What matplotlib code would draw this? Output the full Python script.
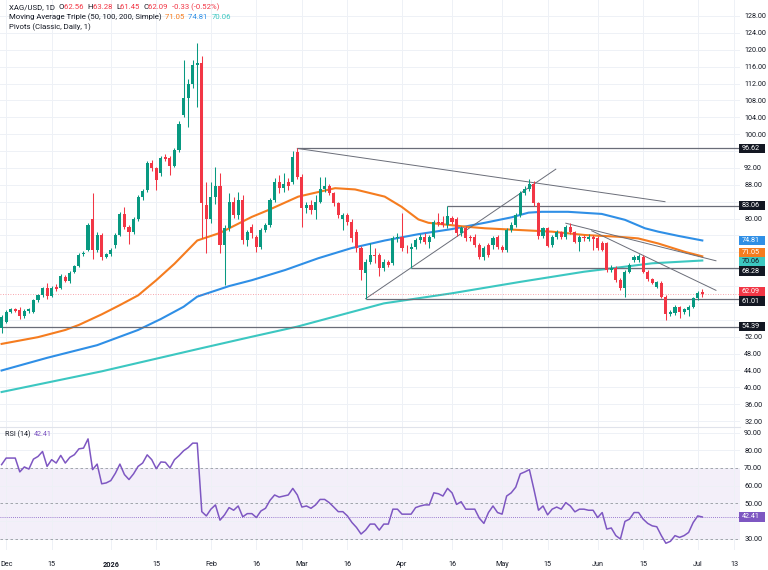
import numpy as np
import pandas as pd
import matplotlib
matplotlib.use("Agg")
import matplotlib.pyplot as plt
from matplotlib.patches import Rectangle

plt.rcParams['font.family'] = ['Roboto', 'DejaVu Sans']

# ---------------- data ----------------
start_date = '2025-11-28'

opens = [54.0, 55.6, 57.9, 58.5, 58.4, 56.9, 58.0, 57.9, 60.7, 61.8,
         63.6, 61.6, 63.9, 63.6, 66.2, 65.1, 67.3, 68.8, 71.5, 72.5,
         80.0, 72.5, 76.1, 71.0, 71.5, 73.7, 76.1, 81.2, 78.1, 76.9,
         79.8, 85.2, 86.8, 93.2, 91.9, 90.7, 94.5, 94.3, 92.5, 96.2,
         104.5, 108.5, 112.0, 116.4, 116.9, 83.2, 80.0, 85.2, 87.6, 73.7,
         77.7, 84.0, 80.8, 84.4, 74.9, 78.1, 75.7, 73.3, 77.3, 78.5,
         84.4, 88.7, 87.2, 88.7, 88.7, 95.8, 89.9, 82.4, 83.2, 82.0,
         84.0, 86.9, 87.6, 86.0, 83.6, 80.0, 80.8, 79.3, 76.9, 72.95,
         67.0, 69.8, 71.4, 71.4, 68.2, 69.8, 69.4, 75.3, 75.7, 72.9,
         72.7, 73.3, 74.9, 75.7, 74.5, 75.7, 79.3, 79.3, 78.5, 80.1,
         79.8, 76.5, 77.7, 75.7, 75.7, 73.7, 71.0, 73.7, 73.7, 75.7,
         73.3, 72.6, 77.3, 78.5, 80.8, 86.0, 87.0, 88.2, 83.6, 75.9,
         77.7, 73.7, 75.7, 76.7, 75.6, 78.1, 76.7, 74.5, 75.7, 75.1,
         75.6, 75.4, 74.2, 74.1, 67.8, 68.4, 65.4, 63.5, 67.4, 70.2,
         70.2, 71.0, 67.4, 65.6, 63.9, 64.8, 61.5, 57.4, 57.6, 59.0,
         57.9, 58.3, 59.1, 61.1, 62.56]
highs = [57.2, 58.3, 58.8, 58.9, 59.0, 58.5, 58.9, 61.0, 62.2, 63.9,
         64.7, 64.0, 64.4, 66.8, 66.6, 67.6, 69.1, 71.8, 72.3, 79.0,
         86.0, 76.8, 76.5, 71.8, 73.0, 76.6, 81.6, 82.8, 78.5, 80.3,
         85.7, 87.0, 93.6, 93.9, 92.3, 94.8, 95.3, 94.8, 96.7, 103.0,
         117.6, 113.0, 117.6, 121.6, 118.6, 88.7, 88.7, 92.3, 90.7, 78.5,
         86.0, 85.0, 86.4, 85.5, 77.3, 78.8, 76.0, 77.7, 79.0, 84.9,
         89.5, 90.3, 90.7, 89.5, 96.0, 96.62, 90.5, 84.0, 84.5, 85.6,
         89.9, 89.9, 88.3, 86.4, 84.0, 81.4, 81.2, 80.0, 77.5, 73.4,
         70.5, 74.1, 73.0, 71.9, 70.5, 70.3, 75.8, 76.5, 81.2, 73.8,
         74.3, 75.5, 76.3, 76.5, 76.2, 79.7, 81.2, 80.5, 83.06, 80.6,
         80.3, 78.3, 78.3, 76.2, 76.3, 74.3, 73.5, 74.1, 75.9, 76.2,
         73.8, 77.7, 79.3, 81.2, 86.5, 87.8, 89.3, 89.0, 84.0, 78.1,
         78.0, 76.1, 77.2, 77.0, 78.5, 78.9, 77.0, 76.0, 76.1, 76.3,
         76.0, 75.8, 74.6, 74.4, 69.0, 68.8, 65.8, 67.8, 69.4, 71.4,
         71.6, 71.4, 67.8, 66.0, 65.3, 65.2, 61.9, 58.3, 59.5, 59.4,
         58.9, 59.6, 61.5, 62.8, 63.28]
lows = [53.0, 55.2, 57.6, 57.8, 56.3, 56.5, 57.7, 57.6, 60.3, 61.5,
        60.9, 61.3, 62.9, 63.3, 64.9, 64.8, 67.0, 68.5, 71.2, 72.2,
        70.5, 72.0, 70.2, 70.7, 71.2, 73.0, 75.8, 77.5, 74.0, 76.4,
        79.4, 84.3, 86.4, 91.3, 86.8, 90.2, 93.6, 90.3, 92.1, 95.8,
        104.1, 101.8, 111.0, 106.5, 75.5, 71.8, 78.9, 83.5, 71.8, 64.3,
        77.0, 80.2, 80.0, 74.0, 73.5, 75.4, 72.1, 72.8, 76.9, 78.1,
        84.0, 86.1, 86.4, 86.7, 88.3, 89.3, 78.1, 81.4, 81.0, 80.0,
        83.6, 86.2, 85.5, 83.0, 80.2, 77.3, 78.5, 74.5, 72.0, 65.5,
        61.01, 69.2, 69.5, 66.5, 67.5, 68.5, 68.9, 74.5, 72.3, 71.9,
        68.28, 72.8, 74.2, 73.9, 73.0, 75.3, 78.3, 77.9, 77.8, 78.6,
        75.8, 75.9, 74.8, 74.7, 73.2, 70.5, 70.2, 70.9, 72.9, 72.8,
        72.0, 72.1, 76.9, 78.1, 80.3, 85.5, 86.5, 83.0, 75.2, 75.3,
        73.2, 73.2, 75.2, 75.1, 75.2, 76.3, 74.1, 72.2, 74.8, 74.6,
        72.6, 72.6, 72.2, 67.3, 67.3, 65.0, 63.1, 61.5, 67.0, 69.6,
        69.8, 67.0, 65.2, 64.4, 63.5, 61.1, 56.0, 56.8, 57.2, 56.4,
        57.4, 56.9, 58.7, 60.8, 61.45]
closes = [56.6, 57.9, 58.5, 58.2, 56.8, 58.1, 58.5, 60.7, 61.8, 63.5,
          61.6, 63.6, 63.2, 66.4, 65.3, 67.2, 68.8, 71.4, 71.9, 78.5,
          72.5, 76.1, 71.0, 71.5, 72.6, 76.1, 81.2, 78.1, 76.7, 79.8,
          85.2, 86.5, 93.2, 91.9, 89.1, 94.3, 94.1, 92.5, 96.2, 102.4,
          108.5, 112.0, 116.4, 116.9, 83.6, 80.0, 85.2, 87.6, 73.7, 77.7,
          84.0, 80.8, 84.4, 74.9, 76.9, 76.5, 73.3, 77.3, 78.5, 84.4,
          88.7, 87.2, 88.3, 87.8, 94.5, 89.9, 82.4, 83.2, 82.0, 84.0,
          86.9, 87.6, 86.0, 83.6, 80.8, 80.8, 79.3, 75.3, 72.95, 67.8,
          69.8, 71.4, 71.2, 68.2, 69.8, 69.0, 75.3, 75.7, 72.95, 72.7,
          73.3, 74.9, 75.7, 74.5, 75.7, 79.3, 78.9, 78.5, 80.6, 79.3,
          76.5, 77.7, 75.3, 75.3, 73.7, 71.0, 72.95, 71.4, 75.3, 73.3,
          72.6, 77.3, 78.5, 80.8, 86.0, 87.0, 88.2, 83.6, 75.9, 77.7,
          73.5, 75.7, 76.7, 75.6, 78.1, 76.7, 74.5, 75.6, 75.3, 75.7,
          75.1, 73.0, 72.6, 67.8, 68.4, 65.4, 63.5, 67.4, 69.0, 71.0,
          71.1, 67.4, 65.6, 64.8, 65.0, 61.5, 57.4, 57.9, 59.1, 57.9,
          58.5, 59.1, 61.1, 62.42, 62.09]

rsi = [71.9, 75.6, 75.6, 75.6, 67.8, 70.6, 69.4, 75.0, 76.5, 79.3,
       70.9, 74.7, 72.8, 77.1, 72.8, 76.0, 77.5, 80.8, 81.2, 86.4,
       69.1, 72.2, 61.1, 61.6, 62.9, 67.0, 72.2, 66.3, 63.5, 66.7,
       70.9, 72.8, 77.4, 74.7, 69.6, 73.4, 73.2, 70.0, 74.7, 77.0,
       79.7, 81.5, 84.0, 84.0, 45.4, 43.0, 46.8, 49.2, 40.6, 43.6,
       47.7, 46.2, 48.6, 42.5, 44.3, 44.3, 42.1, 45.8, 47.3, 51.8,
       54.8, 53.6, 54.2, 54.8, 58.5, 54.8, 48.0, 48.6, 47.3, 49.2,
       52.3, 52.3, 50.5, 48.0, 45.4, 45.4, 43.0, 39.3, 36.5, 32.8,
       35.0, 38.4, 38.4, 35.0, 38.4, 38.4, 46.8, 46.8, 44.0, 44.0,
       44.0, 47.7, 48.6, 49.2, 49.2, 56.0, 55.5, 54.2, 58.5, 56.0,
       49.5, 51.0, 46.8, 46.8, 46.8, 41.7, 38.8, 44.9, 48.6, 44.9,
       44.0, 54.2, 56.0, 59.2, 66.7, 67.8, 69.1, 57.9, 46.2, 48.6,
       43.6, 46.8, 48.0, 46.8, 50.5, 48.6, 45.3, 46.8, 46.8, 46.2,
       46.2, 42.1, 44.9, 35.6, 36.2, 31.9, 30.0, 39.9, 41.2, 44.9,
       44.9, 41.2, 38.8, 37.4, 36.9, 31.9, 27.6, 28.7, 31.9, 30.9,
       31.9, 33.7, 39.3, 43.0, 42.41]

ma50_x = [0, 8, 14, 17, 22, 26, 30, 34, 38, 43, 48, 55, 58.6, 65.2, 73.3, 77.7, 84.2, 87.9,
          91.6, 93.8, 101.8, 106.2, 113.6, 120.9, 128.2, 135.5, 139.9, 144.3, 150.2, 154]
ma50_y = [50.3, 51.9, 53.6, 54.8, 57.3, 59.5, 61.8, 65.4, 69.3, 74.8, 76.6, 80.4, 82.0, 85.2,
          87.2, 86.9, 85.2, 82.8, 79.8, 79.0, 78.1, 77.7, 77.3, 76.9, 76.1, 75.7, 75.3, 74.1,
          72.1, 71.05]
ma100_x = [0, 10, 21, 30, 35, 40, 43, 50, 55, 62.3, 69.6, 76.9, 84.2, 91.6, 98.9, 106.2,
           112.1, 115.8, 118.7, 124.5, 131.9, 137, 141.4, 144.3, 148.7, 154]
ma100_y = [44.0, 47.0, 50.0, 53.6, 56.2, 59.1, 61.5, 64.0, 65.4, 67.8, 70.6, 73.0, 74.8, 76.3,
           77.5, 79.0, 80.3, 81.4, 81.6, 81.6, 81.1, 79.7, 77.7, 76.9, 75.9, 74.81]
ma200_x = [0, 22, 44, 55, 65, 84, 99, 114, 128, 143, 154]
ma200_y = [38.9, 43.8, 49.3, 52.0, 54.4, 59.9, 62.3, 65.0, 67.4, 69.4, 70.06]

pivot_levels = [96.62, 83.06, 68.28, 61.01, 54.39]
pivot_start = [65, 98, 90, 80, 0]

trendlines = [((65, 96.62), (145.8, 84.0)),
              ((80, 61.01), (121.8, 91.7)),
              ((124, 78.9), (157, 70.0)),
              ((129.7, 77.1), (157, 63.0))]

tick_dates = ['2025-12-01', '2025-12-15', '2026-01-01', '2026-01-15', '2026-02-02',
              '2026-02-16', '2026-03-02', '2026-03-16', '2026-04-01', '2026-04-16',
              '2026-05-01', '2026-05-15', '2026-06-01', '2026-06-15', '2026-07-01',
              '2026-07-13']
tick_labels = ['Dec', '15', '2026', '15', 'Feb', '16', 'Mar', '16', 'Apr', '16',
               'May', '15', 'Jun', '15', 'Jul', '13']

price_ticks = np.arange(32, 129, 4)
rsi_ticks = np.arange(30, 91, 10)

title_text = 'XAG/USD, 1D'
ohlc_text = [('O', '62.56'), ('H', '63.28'), ('L', '61.45'), ('C', '62.09')]
change_text = '-0.33 (-0.52%)'
ma_title = 'Moving Average Triple (50, 100, 200, Simple)'
pivot_title = 'Pivots (Classic, Daily, 1)'
rsi_title = 'RSI (14)'

# ---------------- style ----------------
W, H = 768, 570
PANE_R = 740
MAIN_BOT = 427
RSI_BOT = 550
BAR_PX = 4.55
GREEN, RED = '#089981', '#f23645'
C50, C100, C200 = '#f57c1f', '#2f8fe6', '#3cc7c1'
PURPLE = '#7e57c2'
TXT = '#131722'
GRID = '#eef1f6'
FS = 5.2
FS_LEG = 5.6

opens, highs, lows, closes = map(np.array, (opens, highs, lows, closes))
idx = np.arange(len(closes))
dates = pd.bdate_range(start_date, periods=len(closes) + 20)
tick_pos = [dates.get_loc(pd.Timestamp(d)) for d in tick_dates]

fig = plt.figure(figsize=(W / 100, H / 100), dpi=100)
ax = fig.add_axes([0, 1 - MAIN_BOT / H, PANE_R / W, MAIN_BOT / H])
rax = fig.add_axes([0, 1 - RSI_BOT / H, PANE_R / W, (RSI_BOT - MAIN_BOT) / H])

x0 = -0.35
for a in (ax, rax):
    a.set_xlim(x0, x0 + PANE_R / BAR_PX)
    for s in a.spines.values():
        s.set_visible(False)
    a.set_xticks(tick_pos)
    a.grid(True, color=GRID, lw=0.7, zorder=0)
    a.set_axisbelow(True)
    a.yaxis.tick_right()
    a.tick_params(axis='both', length=0, labelsize=FS, labelcolor=TXT, pad=3)

ax.set_ylim(30.61, 131.79)
ax.set_yticks(price_ticks)
ax.set_yticklabels([f'{v:.2f}' for v in price_ticks])
ax.tick_params(axis='x', labelbottom=False)

rax.set_ylim(23.8, 93.1)
rax.set_yticks(rsi_ticks)
rax.set_yticklabels([f'{v:.2f}' for v in rsi_ticks])
rax.set_xticklabels(tick_labels)
rax.tick_params(axis='x', pad=8)
for lab in rax.get_xticklabels():
    if lab.get_text() == '2026':
        lab.set_fontweight('bold')
    lab.set_clip_on(False)

# MAs
ax.plot(ma200_x, ma200_y, color=C200, lw=1.5, zorder=2, solid_joinstyle='round')
ax.plot(ma100_x, ma100_y, color=C100, lw=1.5, zorder=2, solid_joinstyle='round')
ax.plot(ma50_x, ma50_y, color=C50, lw=1.5, zorder=2, solid_joinstyle='round')

# pivots & trendlines
xmax = x0 + PANE_R / BAR_PX
for lv, st in zip(pivot_levels, pivot_start):
    ax.hlines(lv, st, xmax, color='#6a6d78', lw=0.9, zorder=2.5)
for (a1, b1), (a2, b2) in trendlines:
    ax.plot([a1, a2], [b1, b2], color='#6a6d78', lw=0.7, zorder=2.5)
ax.axhline(closes[-1], color=RED, lw=0.6, ls=(0, (1, 2)), alpha=0.6, zorder=2)

# candles
cols = np.where(closes >= opens, GREEN, RED)
ax.vlines(idx, lows, highs, colors=cols, lw=0.75, zorder=3)
body_lo = np.minimum(opens, closes)
body_h = np.maximum(np.abs(closes - opens), 0.15)
ax.bar(idx, body_h, bottom=body_lo, width=0.68, color=cols, lw=0, zorder=4)

# RSI
rax.axhspan(30, 70, color=PURPLE, alpha=0.09, lw=0, zorder=0.5)
for lv in (70, 50, 30):
    rax.axhline(lv, color='#9598a1', lw=0.6, ls=(0, (3, 3)), zorder=1)
rax.axhline(rsi[-1], color=PURPLE, lw=0.6, ls=(0, (1, 1.5)), zorder=1)
rax.plot(np.arange(len(rsi)), rsi, color=PURPLE, lw=1.1, zorder=3)

# separator
fig.add_artist(plt.Line2D([0, PANE_R / W], [1 - MAIN_BOT / H] * 2, color='#e0e3eb', lw=0.8))


# price scale labels (boxes)
def place_boxes(axis, items, gap=9.4):
    nat = [H - axis.transData.transform((0, v))[1] for v, *_ in items]
    order = list(np.argsort(nat))
    ys = [nat[i] for i in order]
    groups = [[k] for k in range(len(ys))]
    while True:
        pos = []
        spans = []
        for g in groups:
            m = np.mean([ys[k] for k in g])
            n = len(g)
            p = [m + (j - (n - 1) / 2) * gap for j in range(n)]
            pos += p
            spans.append((p[0], p[-1]))
        merged = [groups[0]]
        last = spans[0]
        changed = False
        for g, sp in zip(groups[1:], spans[1:]):
            if sp[0] - last[1] < gap - 1e-6:
                merged[-1] = merged[-1] + g
                last = (last[0], sp[1])
                changed = True
            else:
                merged.append(g)
                last = sp
        groups = merged
        if not changed:
            break
    for k, i in enumerate(order):
        v, txt, fc, tc = items[i]
        yc = pos[k]
        fig.add_artist(Rectangle((739 / W, 1 - (yc + gap / 2) / H), 26 / W, gap / H,
                                 transform=fig.transFigure, fc=fc, ec='none', zorder=5))
        fig.text(741.5 / W, 1 - yc / H, txt, color=tc, fontsize=FS, va='center', ha='left',
                 zorder=6)
    # hide scale labels hidden behind boxes
    for t, lab in zip(axis.get_yticks(), axis.get_yticklabels()):
        ty = H - axis.transData.transform((0, t))[1]
        if any(abs(ty - p) < gap - 1 for p in pos):
            lab.set_visible(False)


main_boxes = [(pivot_levels[0], f'{pivot_levels[0]:.2f}', TXT, 'white'),
              (pivot_levels[1], f'{pivot_levels[1]:.2f}', TXT, 'white'),
              (ma100_y[-1], f'{ma100_y[-1]:.2f}', C100, 'white'),
              (ma50_y[-1], f'{ma50_y[-1]:.2f}', C50, 'white'),
              (ma200_y[-1], f'{ma200_y[-1]:.2f}', C200, TXT),
              (pivot_levels[2], f'{pivot_levels[2]:.2f}', TXT, 'white'),
              (closes[-1], f'{closes[-1]:.2f}', RED, 'white'),
              (pivot_levels[3], f'{pivot_levels[3]:.2f}', TXT, 'white'),
              (pivot_levels[4], f'{pivot_levels[4]:.2f}', TXT, 'white')]
place_boxes(ax, main_boxes)
place_boxes(rax, [(rsi[-1], f'{rsi[-1]:.2f}', PURPLE, 'white')])

# legend texts
renderer = fig.canvas.get_renderer()


def seq_text(x, y, parts, fs=FS_LEG):
    for s, c in parts:
        t = fig.text(x / W, 1 - y / H, s, color=c, fontsize=fs, va='center', ha='left')
        x += t.get_window_extent(renderer).width


line1 = [(title_text + '  ', TXT)]
for k, v in ohlc_text:
    line1 += [(k, TXT), (v + '  ', RED)]
line1 += [(change_text, RED)]
seq_text(9, 7, line1)
seq_text(9, 17, [(ma_title + '  ', TXT), (f'{ma50_y[-1]:.2f}  ', C50),
                 (f'{ma100_y[-1]:.2f}  ', C100), (f'{ma200_y[-1]:.2f}', C200)])
seq_text(9, 27, [(pivot_title, TXT)])
seq_text(5, 434, [(rsi_title + '  ', TXT), (f'{rsi[-1]:.2f}', PURPLE)], fs=FS)

fig.savefig('out.png', dpi=100)
